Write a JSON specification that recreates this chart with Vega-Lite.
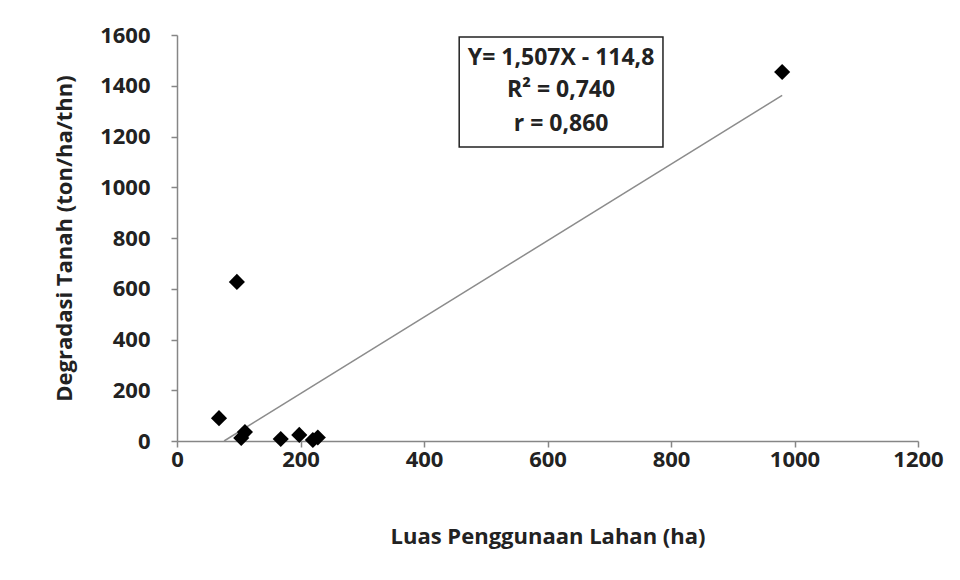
{
  "$schema": "https://vega.github.io/schema/vega-lite/v6.json",
  "width": 741,
  "height": 406,
  "autosize": "none",
  "padding": {"left": 177, "top": 35, "right": 42, "bottom": 139},
  "background": "white",
  "config": {
    "view": {"stroke": null},
    "font": "Open Sans",
    "axis": {
      "grid": false,
      "domainColor": "#868686",
      "domainWidth": 1.5,
      "tickColor": "#868686",
      "tickWidth": 1.5,
      "tickSize": 6,
      "labelFlush": false,
      "labelFont": "Open Sans",
      "labelFontSize": 22,
      "labelFontWeight": "bold",
      "labelColor": "#222222",
      "titleFont": "Open Sans",
      "titleFontSize": 22,
      "titleFontWeight": "bold",
      "titleColor": "#222222"
    }
  },
  "datasets": {
    "points": [
      {"luas": 68, "degradasi": 90},
      {"luas": 97, "degradasi": 627},
      {"luas": 104, "degradasi": 12},
      {"luas": 110, "degradasi": 35},
      {"luas": 168, "degradasi": 8},
      {"luas": 198, "degradasi": 24},
      {"luas": 220, "degradasi": 4},
      {"luas": 228, "degradasi": 14},
      {"luas": 980, "degradasi": 1454}
    ],
    "trend": [
      {"luas": 76.2, "degradasi": 0},
      {"luas": 980, "degradasi": 1362}
    ],
    "box": [
      {"x1": 457, "x2": 787, "y1": 1159, "y2": 1592}
    ],
    "labels": [
      {"x": 622, "y": 1509, "t": "Y= 1,507X - 114,8"},
      {"x": 622, "y": 1383, "t": "R² = 0,740"},
      {"x": 622, "y": 1249, "t": "r = 0,860"}
    ]
  },
  "layer": [
    {
      "data": {"name": "trend"},
      "mark": {"type": "line", "color": "#8c8c8c", "strokeWidth": 1.5},
      "encoding": {
        "x": {
          "field": "luas", "type": "quantitative",
          "scale": {"domain": [0, 1200], "nice": false},
          "axis": {"values": [0, 200, 400, 600, 800, 1000, 1200], "format": "d", "title": "Luas Penggunaan Lahan (ha)", "labelPadding": 2, "titlePadding": 56}
        },
        "y": {
          "field": "degradasi", "type": "quantitative",
          "scale": {"domain": [0, 1600], "nice": false},
          "axis": {"values": [0, 200, 400, 600, 800, 1000, 1200, 1400, 1600], "format": "d", "title": "Degradasi Tanah (ton/ha/thn)", "labelPadding": 21, "titlePadding": 23}
        }
      }
    },
    {
      "data": {"name": "points"},
      "mark": {"type": "point", "shape": "diamond", "filled": true, "color": "black", "size": 260, "opacity": 1},
      "encoding": {
        "x": {"field": "luas", "type": "quantitative"},
        "y": {"field": "degradasi", "type": "quantitative"}
      }
    },
    {
      "data": {"name": "box"},
      "mark": {"type": "rect", "fill": "white", "stroke": "#222222", "strokeWidth": 1.5},
      "encoding": {
        "x": {"field": "x1", "type": "quantitative"},
        "x2": {"field": "x2"},
        "y": {"field": "y1", "type": "quantitative"},
        "y2": {"field": "y2"}
      }
    },
    {
      "data": {"name": "labels"},
      "mark": {"type": "text", "font": "Open Sans", "fontSize": 23, "fontWeight": "bold", "color": "#222222", "align": "center", "baseline": "middle"},
      "encoding": {
        "x": {"field": "x", "type": "quantitative"},
        "y": {"field": "y", "type": "quantitative"},
        "text": {"field": "t"}
      }
    }
  ]
}
